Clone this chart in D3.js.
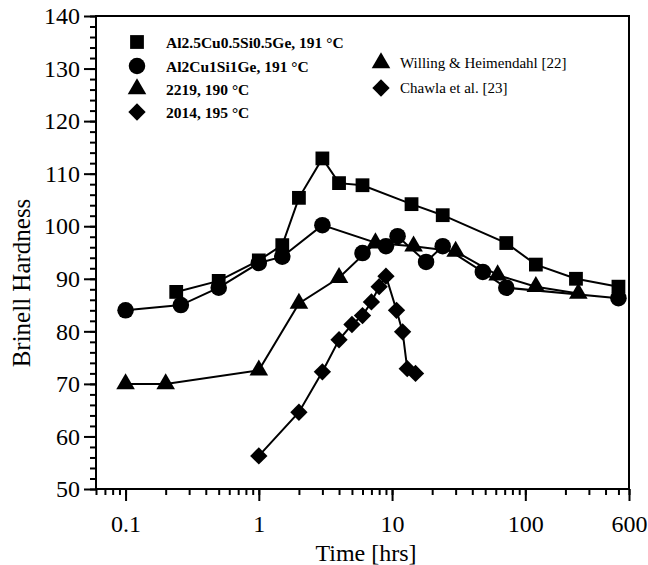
<!DOCTYPE html>
<html><head><meta charset="utf-8">
<script src="https://cdn.jsdelivr.net/npm/d3@7"></script>
<style>body{margin:0;background:#fff}svg{display:block}text{font-family:"Liberation Serif","Times New Roman",serif;fill:#000}</style>
</head><body><svg id="c" width="648" height="565"></svg>
<script>
// ---- data ----
const sqT = [0.24, 0.5, 1, 1.5, 2, 3, 4, 6, 14, 24, 72, 120, 240, 500];
const sqV = [87.5, 89.6, 93.5, 96.4, 105.4, 112.9, 108.2, 107.8, 104.2, 102.1, 96.8, 92.7, 90, 88.5];
const ciT = [0.1, 0.26, 0.5, 1, 1.5, 3, 9, 11, 18, 24, 48, 72, 500];
const ciV = [84, 85, 88.3, 93, 94.2, 100.2, 96.2, 98.1, 93.2, 96.2, 91.3, 88.3, 86.3];
const ciLooseT = [6];
const ciLooseV = [94.9];
const trT = [0.1, 0.2, 1, 2, 4, 7.5, 14.5, 30, 62, 120, 250];
const trV = [70, 70, 72.6, 85.3, 90.2, 96.8, 96.2, 95.2, 90.7, 88.5, 87.2];
const diT = [1, 2, 3, 4, 5, 6, 7, 8, 9, 10.8, 12, 13, 15];
const diV = [56.3, 64.6, 72.3, 78.4, 81.3, 83, 85.6, 88.5, 90.5, 84, 79.9, 72.9, 72];
const xTickVals = [0.1, 1, 10, 100, 600];
const xTickLabels = ["0.1", "1", "10", "100", "600"];
const yTickVals = [50, 60, 70, 80, 90, 100, 110, 120, 130, 140];
const legendLeft = ["Al2.5Cu0.5Si0.5Ge, 191 °C", "Al2Cu1Si1Ge, 191 °C", "2219, 190 °C", "2014, 195 °C"];
const legendRight = ["Willing & Heimendahl [22]", "Chawla et al. [23]"];

const svg = d3.select("#c");
const L = 96, R = 629, T = 16, B = 489;
const x = d3.scaleLog().domain([0.06, 600]).range([L, R]);
const y = d3.scaleLinear().domain([50, 140]).range([B, T]);

const diamondType = { draw(ctx, size) { const r = Math.sqrt(size / 2); ctx.moveTo(0, -r); ctx.lineTo(r, 0); ctx.lineTo(0, r); ctx.lineTo(-r, 0); ctx.closePath(); } };
const shapes = {
  square: d3.symbol().type(d3.symbolSquare).size(190)(),
  circle: d3.symbol().type(d3.symbolCircle).size(215)(),
  triangle: d3.symbol().type(d3.symbolTriangle).size(150)(),
  diamond: d3.symbol().type(diamondType).size(150)()
};

// frame
svg.append("rect").attr("x", L).attr("y", T).attr("width", R - L).attr("height", B - T)
  .attr("fill", "none").attr("stroke", "#000").attr("stroke-width", 2);

// y axis
const yMinor = d3.range(50, 141, 2);
const yAxis = d3.axisLeft(y).tickValues(yTickVals).tickSize(12).tickPadding(4).tickFormat(d3.format("d"));
const gy = svg.append("g").attr("transform", `translate(${L},0)`).call(yAxis);
gy.select(".domain").remove();
gy.selectAll("line").attr("stroke-width", 2);
gy.selectAll("text").style("font-size", "24px").style("font-family", "Liberation Serif");
const gym = svg.append("g").attr("transform", `translate(${L},0)`).call(d3.axisLeft(y).tickValues(yMinor).tickSize(6).tickFormat(""));
gym.select(".domain").remove();
gym.selectAll("line").attr("stroke-width", 2);

// x axis
const gx = svg.append("g").attr("transform", `translate(0,${B})`)
  .call(d3.axisBottom(x).tickValues(xTickVals).tickSize(12).tickPadding(14).tickFormat((d, i) => xTickLabels[i]));
gx.select(".domain").remove();
gx.selectAll("line").attr("stroke-width", 2);
gx.selectAll("text").style("font-size", "24px").style("font-family", "Liberation Serif");
const gxm = svg.append("g").attr("transform", `translate(0,${B})`)
  .call(d3.axisBottom(x).tickValues(x.ticks()).tickSize(6).tickFormat(""));
gxm.select(".domain").remove();
gxm.selectAll("line").attr("stroke-width", 2);

// axis titles
svg.append("text").attr("x", 366).attr("y", 561).attr("text-anchor", "middle").style("font-size", "24px").text("Time [hrs]");
svg.append("text").attr("transform", `translate(30,283) rotate(-90)`).attr("text-anchor", "middle").style("font-size", "25px").text("Brinell Hardness");

// series
const series = [
  { t: sqT, v: sqV, s: "square" },
  { t: ciT, v: ciV, s: "circle" },
  { t: trT, v: trV, s: "triangle" },
  { t: diT, v: diV, s: "diamond" }
];
const line = d3.line().x(d => x(d[0])).y(d => y(d[1]));
series.forEach(se => {
  const pts = se.t.map((t, i) => [t, se.v[i]]);
  svg.append("path").attr("d", line(pts)).attr("fill", "none").attr("stroke", "#000").attr("stroke-width", 2);
});
const markerSets = series.concat([{ t: ciLooseT, v: ciLooseV, s: "circle" }]);
markerSets.forEach(se => {
  const pts = se.t.map((t, i) => [t, se.v[i]]);
  svg.append("g").selectAll("path").data(pts).join("path")
    .attr("transform", d => `translate(${x(d[0])},${y(d[1])})`)
    .attr("d", shapes[se.s]).attr("fill", "#000");
});

// legend
const lshapes = ["square", "circle", "triangle", "diamond"];
const lrows = [42, 66, 89, 112];
legendLeft.forEach((txt, i) => {
  svg.append("path").attr("transform", `translate(137,${lrows[i]})`).attr("d", shapes[lshapes[i]]).attr("fill", "#000");
  svg.append("text").attr("x", 166).attr("y", lrows[i] + 5.5).style("font-size", "15.5px").style("font-weight", "bold").text(txt);
});
const rrows = [63, 88];
const rshapes = ["triangle", "diamond"];
legendRight.forEach((txt, i) => {
  svg.append("path").attr("transform", `translate(381,${rrows[i]})`).attr("d", shapes[rshapes[i]]).attr("fill", "#000");
  svg.append("text").attr("x", 400).attr("y", rrows[i] + 5).style("font-size", "15px").text(txt);
});
</script></body></html>
